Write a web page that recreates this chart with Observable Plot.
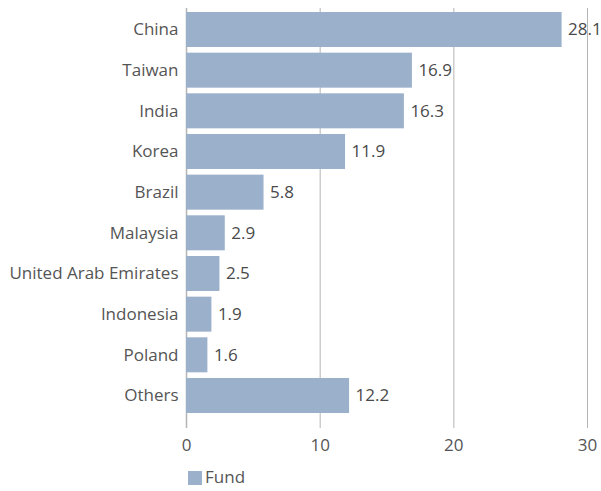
<!DOCTYPE html>
<html><head><meta charset="utf-8">
<script src="https://cdn.jsdelivr.net/npm/d3@7"></script>
<script src="https://cdn.jsdelivr.net/npm/@observablehq/plot@0.6"></script>
<style>
body{margin:0;background:#fff;font-family:"Open Sans",sans-serif;}
#legend{position:relative;height:29px;font-size:17px;color:#555;}
#legend .sw{position:absolute;left:188px;top:9px;width:14px;height:14px;background:#9ab0cb;}
#legend .lb{position:absolute;left:205px;top:5px;line-height:20px;}
</style></head><body><div id="chart"></div><div id="legend"><span class="sw"></span><span class="lb"></span></div>
<script>
const countries = ["China","Taiwan","India","Korea","Brazil","Malaysia","United Arab Emirates","Indonesia","Poland","Others"];
const values = [28.1,16.9,16.3,11.9,5.8,2.9,2.5,1.9,1.6,12.2];
const xTicks = [0,10,20,30];
const gridTicks = [10,20,30];
const seriesName = "Fund";

const data = countries.map((c,i)=>({country:c,value:values[i]}));
const barColor = "#9ab0cb";

const chart = Plot.plot({
  width: 601,
  height: 462,
  marginLeft: 186,
  marginRight: 14,
  marginTop: 8,
  marginBottom: 34,
  style: {fontFamily: '"Open Sans", sans-serif', fontSize: "17px", color: "#555", background: "#fff"},
  x: {domain: [0,30], ticks: xTicks, tickSize: 0, tickPadding: 10, label: null},
  y: {domain: countries, paddingInner: 0.139, paddingOuter: 0.2336, align: 0.21, round: false, tickSize: 0, tickPadding: 8, label: null},
  marks: [
    Plot.ruleX(gridTicks, {stroke: "#b5b5b5", strokeWidth: 1, strokeOpacity: 1}),
    Plot.ruleX([0], {stroke: "#b5b5b5", strokeWidth: 1.5, strokeOpacity: 1}),
    Plot.barX(data, {x: "value", y: "country", fill: barColor}),
    Plot.text(data, {x: "value", y: "country", text: d => d.value.toFixed(1), textAnchor: "start", dx: 6, fill: "#4a4a4a", fontSize: 17}),
    Plot.axisY({tickSize: 0, tickPadding: 8, fontSize: 17, fill: "#555"}),
    Plot.axisX({ticks: xTicks, tickSize: 0, tickPadding: 10, fontSize: 17, fill: "#555", label: null})
  ]
});
document.getElementById("chart").appendChild(chart);
document.querySelector("#legend .lb").textContent = seriesName;
</script>
</body></html>
